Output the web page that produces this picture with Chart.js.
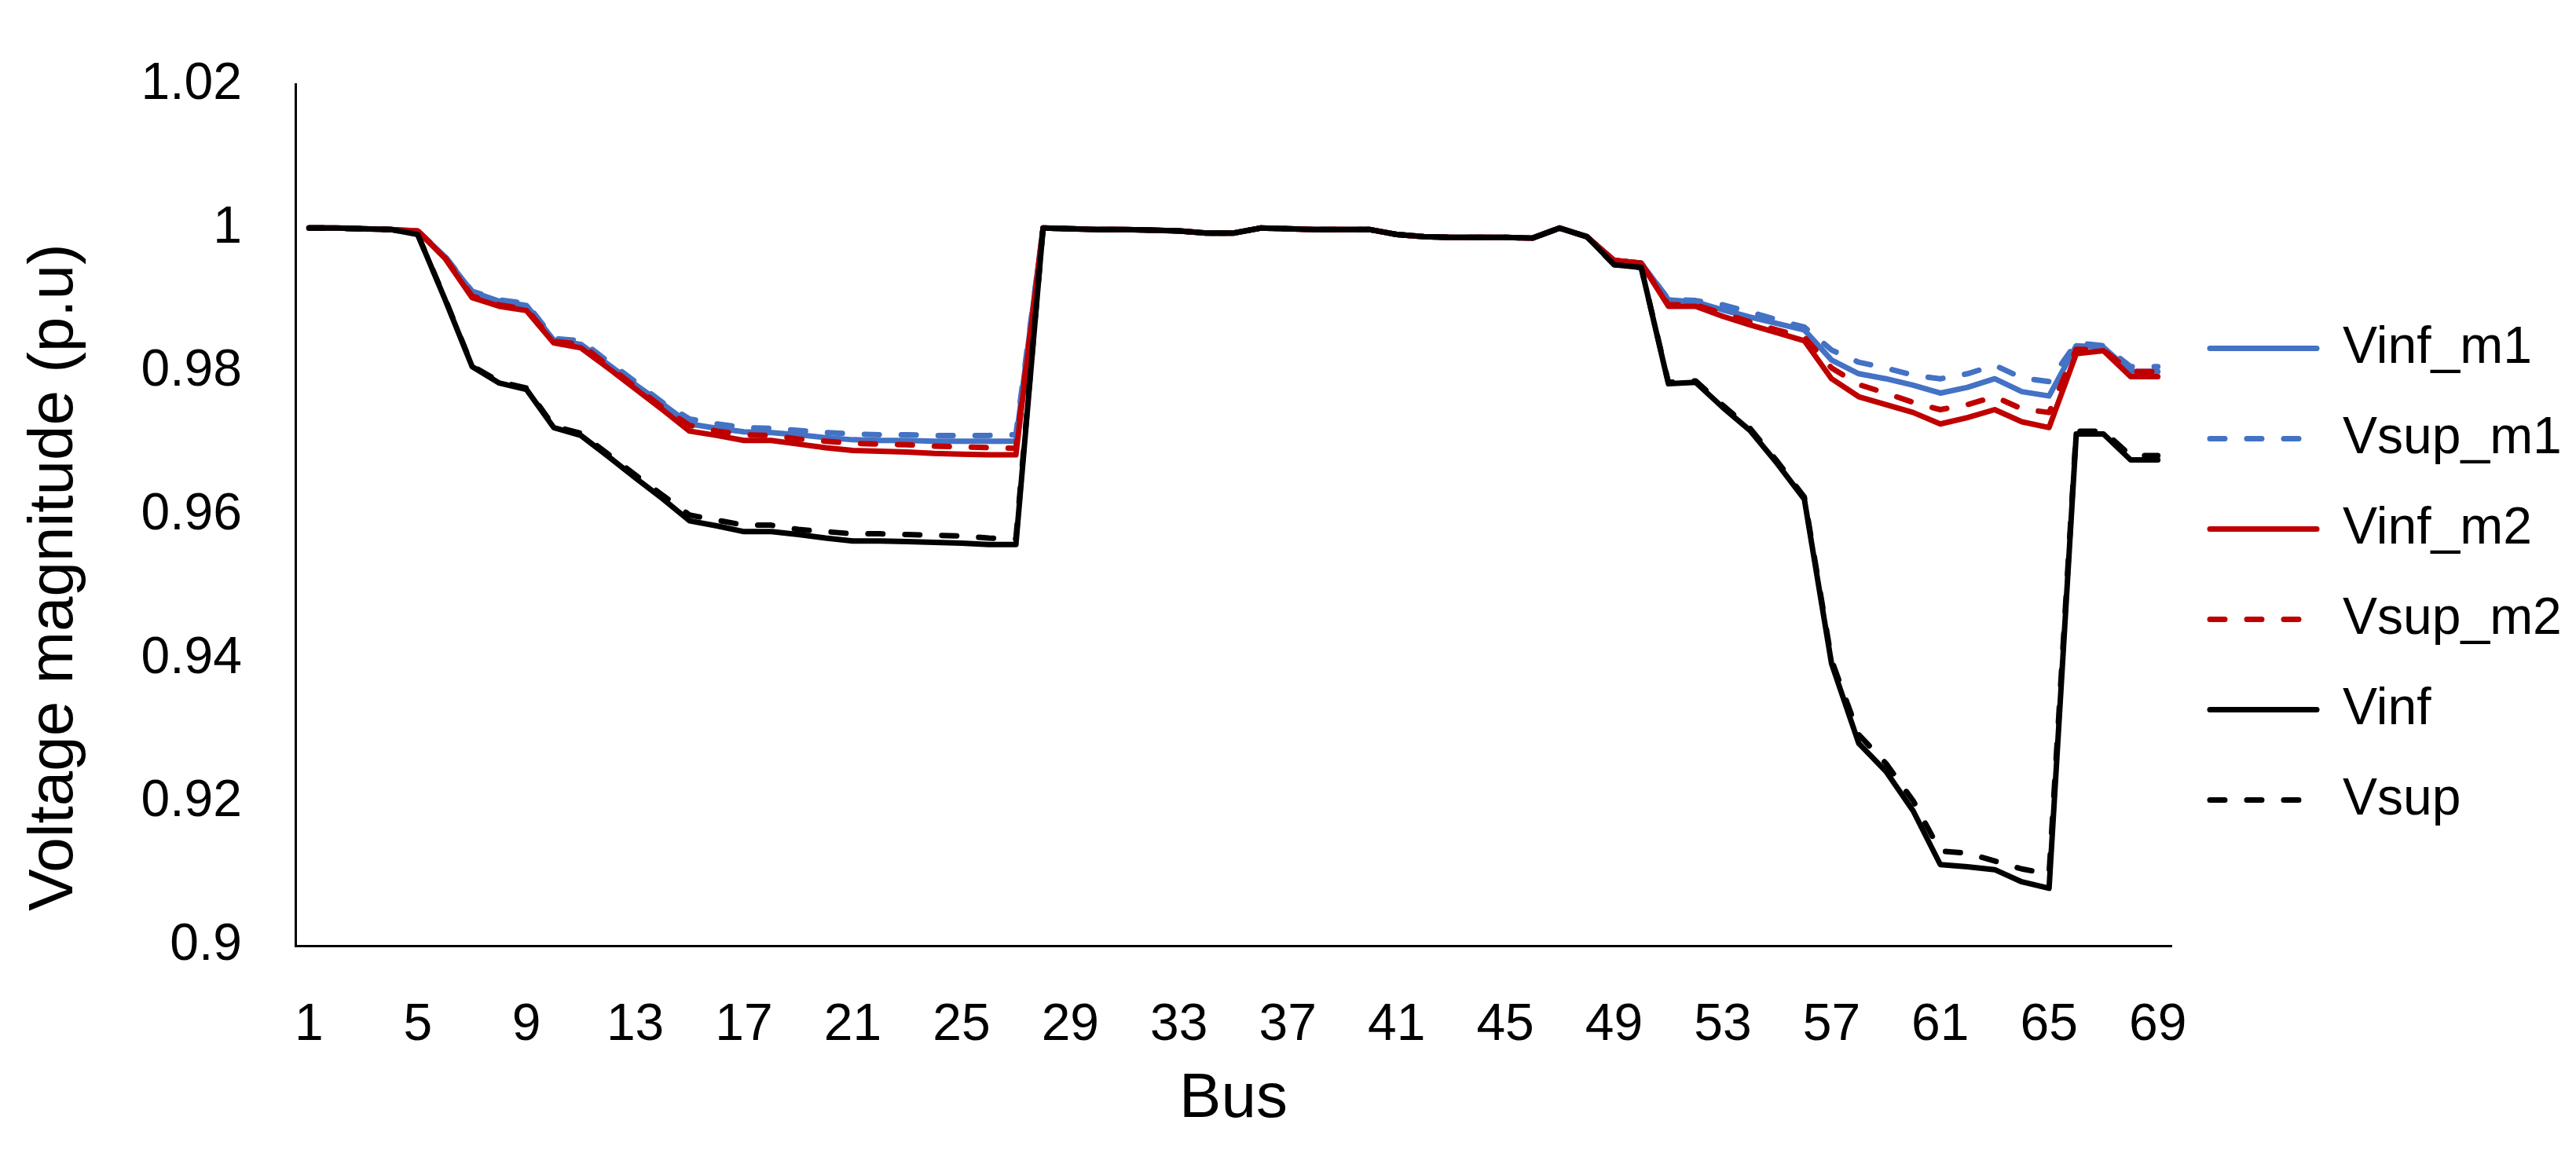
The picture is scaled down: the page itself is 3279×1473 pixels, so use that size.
<!DOCTYPE html>
<html>
<head>
<meta charset="utf-8">
<script src="https://cdn.jsdelivr.net/npm/chart.js@4.4.1/dist/chart.umd.min.js"></script>
<style>
  html, body { margin: 0; padding: 0; background: #fff; }
  #wrap { width: 3279px; height: 1473px; }
</style>
</head>
<body>
<div id="wrap"><canvas id="chart" width="3279" height="1473"></canvas></div>
<script>
/* ==============================
   DATA
 ============================== */
const buses = ['1','2','3','4','5','6','7','8','9','10','11','12','13','14','15','16','17','18','19','20',
  '21','22','23','24','25','26','27','28','29','30','31','32','33','34','35','36','37','38','39','40',
  '41','42','43','44','45','46','47','48','49','50','51','52','53','54','55','56','57','58','59','60',
  '61','62','63','64','65','66','67','68','69'];

const yTicks = [0.9, 0.92, 0.94, 0.96, 0.98, 1, 1.02];

const vinfM1 = [
  1.0000, 1.0000, 0.9999, 0.9998, 0.9996, 0.9960, 0.9911, 0.9898, 0.9892, 0.9844,
  0.9838, 0.9810, 0.9782, 0.9755, 0.9727, 0.9721, 0.9716, 0.9715, 0.9712, 0.9708,
  0.9705, 0.9704, 0.9704, 0.9703, 0.9703, 0.9703, 0.9703, 1.0000, 0.9999, 0.9998,
  0.9998, 0.9997, 0.9996, 0.9993, 0.9993, 1.0000, 0.9999, 0.9998, 0.9998, 0.9998,
  0.9991, 0.9988, 0.9987, 0.9987, 0.9987, 0.9986, 1.0000, 0.9988, 0.9955, 0.9951,
  0.9900, 0.9897, 0.9886, 0.9876, 0.9867, 0.9858, 0.9816, 0.9797, 0.9790, 0.9781,
  0.9770, 0.9778, 0.9790, 0.9772, 0.9766, 0.9836, 0.9834, 0.9800, 0.9800];

const vsupM1 = [
  1.0000, 1.0000, 0.9999, 0.9998, 0.9996, 0.9961, 0.9912, 0.9900, 0.9895, 0.9846,
  0.9843, 0.9814, 0.9786, 0.9757, 0.9734, 0.9727, 0.9722, 0.9721, 0.9718, 0.9715,
  0.9713, 0.9712, 0.9712, 0.9711, 0.9711, 0.9711, 0.9712, 1.0000, 0.9999, 0.9998,
  0.9998, 0.9997, 0.9996, 0.9993, 0.9993, 1.0000, 0.9999, 0.9998, 0.9998, 0.9998,
  0.9991, 0.9988, 0.9987, 0.9987, 0.9987, 0.9986, 1.0000, 0.9988, 0.9955, 0.9951,
  0.9901, 0.9899, 0.9893, 0.9883, 0.9872, 0.9862, 0.9830, 0.9813, 0.9805, 0.9795,
  0.9790, 0.9797, 0.9809, 0.9791, 0.9786, 0.9840, 0.9836, 0.9807, 0.9807];

const vinfM2 = [
  1.0000, 1.0000, 0.9999, 0.9998, 0.9996, 0.9958, 0.9903, 0.9891, 0.9885, 0.9840,
  0.9833, 0.9805, 0.9776, 0.9747, 0.9717, 0.9711, 0.9704, 0.9704, 0.9699, 0.9694,
  0.9690, 0.9689, 0.9688, 0.9686, 0.9685, 0.9684, 0.9684, 1.0000, 0.9999, 0.9998,
  0.9998, 0.9997, 0.9996, 0.9993, 0.9993, 1.0000, 0.9999, 0.9998, 0.9998, 0.9998,
  0.9991, 0.9988, 0.9987, 0.9987, 0.9987, 0.9986, 1.0000, 0.9988, 0.9955, 0.9951,
  0.9891, 0.9891, 0.9877, 0.9865, 0.9854, 0.9843, 0.9790, 0.9765, 0.9754, 0.9743,
  0.9727, 0.9736, 0.9747, 0.9730, 0.9722, 0.9825, 0.9829, 0.9793, 0.9793];

const vsupM2 = [
  1.0000, 1.0000, 0.9999, 0.9998, 0.9996, 0.9959, 0.9905, 0.9893, 0.9887, 0.9842,
  0.9838, 0.9808, 0.9779, 0.9750, 0.9725, 0.9717, 0.9712, 0.9711, 0.9706, 0.9703,
  0.9700, 0.9699, 0.9698, 0.9696, 0.9695, 0.9694, 0.9693, 1.0000, 0.9999, 0.9998,
  0.9998, 0.9997, 0.9996, 0.9993, 0.9993, 1.0000, 0.9999, 0.9998, 0.9998, 0.9998,
  0.9991, 0.9988, 0.9987, 0.9987, 0.9987, 0.9986, 1.0000, 0.9988, 0.9955, 0.9951,
  0.9893, 0.9893, 0.9881, 0.9869, 0.9858, 0.9848, 0.9805, 0.9782, 0.9770, 0.9757,
  0.9747, 0.9754, 0.9765, 0.9748, 0.9743, 0.9831, 0.9830, 0.9800, 0.9800];

const vinf = [
  1.0000, 1.0000, 0.9999, 0.9998, 0.9991, 0.9901, 0.9807, 0.9784, 0.9775, 0.9722,
  0.9711, 0.9682, 0.9652, 0.9623, 0.9592, 0.9585, 0.9577, 0.9577, 0.9573, 0.9568,
  0.9564, 0.9564, 0.9563, 0.9562, 0.9561, 0.9559, 0.9559, 1.0000, 0.9999, 0.9998,
  0.9998, 0.9997, 0.9996, 0.9993, 0.9993, 1.0000, 0.9999, 0.9998, 0.9998, 0.9998,
  0.9991, 0.9988, 0.9987, 0.9987, 0.9987, 0.9986, 1.0000, 0.9988, 0.9949, 0.9945,
  0.9783, 0.9785, 0.9750, 0.9718, 0.9672, 0.9622, 0.9393, 0.9282, 0.9243, 0.9188,
  0.9113, 0.9110, 0.9106, 0.9089, 0.9080, 0.9713, 0.9713, 0.9677, 0.9677];

const vsup = [
  1.0000, 1.0000, 0.9999, 0.9998, 0.9991, 0.9902, 0.9808, 0.9786, 0.9777, 0.9724,
  0.9714, 0.9685, 0.9656, 0.9628, 0.9600, 0.9593, 0.9586, 0.9586, 0.9580, 0.9577,
  0.9574, 0.9574, 0.9573, 0.9572, 0.9571, 0.9568, 0.9567, 1.0000, 0.9999, 0.9998,
  0.9998, 0.9997, 0.9996, 0.9993, 0.9993, 1.0000, 0.9999, 0.9998, 0.9998, 0.9998,
  0.9991, 0.9988, 0.9987, 0.9987, 0.9987, 0.9986, 1.0000, 0.9988, 0.9949, 0.9945,
  0.9785, 0.9787, 0.9753, 0.9721, 0.9675, 0.9625, 0.9398, 0.9294, 0.9254, 0.9202,
  0.9132, 0.9129, 0.9118, 0.9107, 0.9100, 0.9717, 0.9717, 0.9683, 0.9683];

const seriesNames = ['Vinf_m1', 'Vsup_m1', 'Vinf_m2', 'Vsup_m2', 'Vinf', 'Vsup'];

/* ==============================
   STYLE / LAYOUT
 ============================== */
const FONT = '"Liberation Sans", Arial, sans-serif';
const TICK_SIZE = 66;
const TITLE_SIZE = 80;
const PLOT_LEFT = 376, PLOT_RIGHT = 2764, PLOT_TOP = 84, PLOT_BOTTOM = 1204;
const LEGEND_PAD = 49, LEGEND_LINE = 136;
const LINE_W = 7;
const DASH = [19, 28];

// measure legend text so the plot keeps its right edge
const mctx = document.createElement('canvas').getContext('2d');
mctx.font = `${TICK_SIZE}px ${FONT}`;
const maxText = Math.max(...seriesNames.map(n => mctx.measureText(n).width));
const legendWidth = LEGEND_PAD + LEGEND_LINE + TICK_SIZE / 2 + maxText + 10;
const padRight = Math.max(0, 3279 - PLOT_RIGHT - legendWidth);

const mk = (label, data, color, dashed, order) => ({
    label, data, order,
    borderColor: color,
    backgroundColor: color,
    borderWidth: LINE_W,
    borderDash: dashed ? DASH : [],
    borderCapStyle: 'round',
    borderJoinStyle: 'round',
    pointRadius: 0,
    pointHoverRadius: 0,
    tension: 0,
    fill: false
});

// y title is centred on the whole chart, like the original
const yTitlePlugin = {
    id: 'yTitle',
    afterDraw(chart) {
        const c = chart.ctx;
        c.save();
        c.translate(70, 735);
        c.rotate(-Math.PI / 2);
        c.font = `${TITLE_SIZE}px ${FONT}`;
        c.fillStyle = '#000';
        c.textAlign = 'center';
        c.textBaseline = 'middle';
        c.fillText('Voltage magnitude (p.u)', 0, 0);
        c.restore();
    }
};

Chart.defaults.font.family = FONT;
Chart.defaults.color = '#000';

new Chart(document.getElementById('chart'), {
    type: 'line',
    data: {
        labels: buses,
        datasets: [
            mk(seriesNames[0], vinfM1, '#4472C4', false, 5),
            mk(seriesNames[1], vsupM1, '#4472C4', true, 4),
            mk(seriesNames[2], vinfM2, '#C00000', false, 3),
            mk(seriesNames[3], vsupM2, '#C00000', true, 2),
            mk(seriesNames[4], vinf, '#000000', false, 1),
            mk(seriesNames[5], vsup, '#000000', true, 0)
        ]
    },
    options: {
        responsive: false,
        animation: false,
        devicePixelRatio: 1,
        layout: { padding: { left: 0, top: PLOT_TOP, right: padRight, bottom: 0 } },
        plugins: {
            tooltip: { enabled: false },
            legend: {
                position: 'right',
                align: 'start',
                fullSize: false,
                reverse: true,
                title: { display: true, text: ' ', font: { size: 10 }, padding: { top: 242, bottom: 0 } },
                labels: {
                    usePointStyle: true,
                    pointStyle: 'line',
                    pointStyleWidth: LEGEND_LINE,
                    padding: LEGEND_PAD,
                    color: '#000',
                    font: { size: TICK_SIZE, family: FONT },
                    generateLabels: chart => {
                        const items = Chart.defaults.plugins.legend.labels.generateLabels(chart);
                        items.forEach(it => {
                            const ds = chart.data.datasets[it.datasetIndex];
                            it.lineDash = ds.borderDash;
                            it.lineWidth = ds.borderWidth;
                            it.lineCap = 'round';
                            it.strokeStyle = ds.borderColor;
                        });
                        return items;
                    }
                }
            }
        },
        scales: {
            x: {
                type: 'category',
                offset: true,
                grid: { display: false, drawTicks: false },
                border: { display: true, color: '#000', width: 3 },
                ticks: {
                    autoSkip: false,
                    maxRotation: 0,
                    minRotation: 0,
                    padding: 62,
                    font: { size: TICK_SIZE },
                    callback: (v, i) => (i % 4 === 0 ? buses[i] : null)
                },
                title: { display: true, text: 'Bus', font: { size: TITLE_SIZE }, padding: { top: 0, bottom: 25 } },
                afterFit: s => { s.height = 1473 - PLOT_BOTTOM; }
            },
            y: {
                min: yTicks[0],
                max: yTicks[yTicks.length - 1],
                grid: { display: false, drawTicks: false },
                border: { display: true, color: '#000', width: 3 },
                ticks: {
                    stepSize: 0.02,
                    padding: 68,
                    font: { size: TICK_SIZE },
                    callback: v => String(Number(v.toFixed(2)))
                },
                afterFit: s => { s.width = PLOT_LEFT; }
            }
        }
    },
    plugins: [yTitlePlugin]
});
</script>
</body>
</html>
